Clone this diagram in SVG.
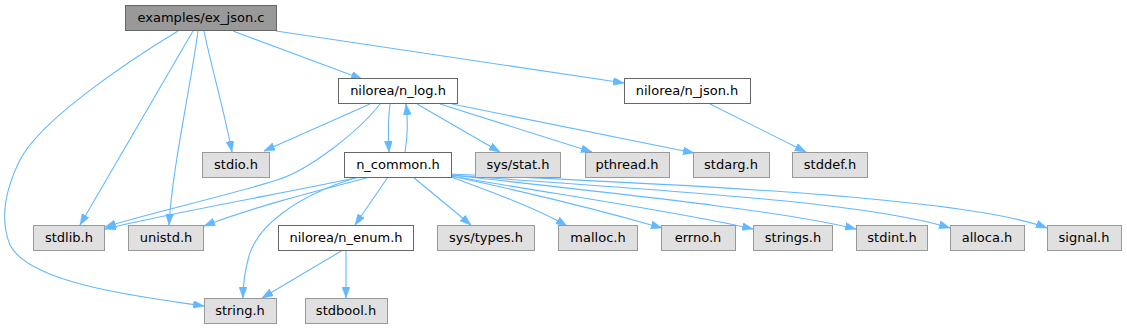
<svg xmlns="http://www.w3.org/2000/svg" width="1127" height="329" viewBox="0 0 1127 329">
<style>
.n rect{stroke-width:1}
.w rect{fill:#ffffff;stroke:#666666}
.g rect{fill:#e0e0e0;stroke:#999999}
.r rect{fill:#999999;stroke:#666666}
text{font-family:"DejaVu Sans","Liberation Sans",sans-serif;font-size:13px;fill:#000000;text-anchor:middle}
.e path{fill:none;stroke:#63b8ff;stroke-width:1.1;marker-end:url(#ah)}
</style>
<defs>
<marker id="ah" viewBox="0 0 11 8" refX="11" refY="4" markerWidth="11" markerHeight="8" markerUnits="userSpaceOnUse" orient="auto">
<path d="M0,0 L11,4 L0,8 z" fill="#63b8ff" stroke="#63b8ff" stroke-width="0.5"/>
</marker>
</defs>
<rect width="1127" height="329" fill="#ffffff"/>
<g id="edges" class="e">
<path d="M178,31 C130,60 40,120 20,160 C5,190 0,220 10,245 C30,285 150,298 204,306"/>
<path d="M193,31 L80,225"/>
<path d="M198,31 C190,90 172,170 169,225"/>
<path d="M204,31 C212,70 224,110 232,152"/>
<path d="M233,31 L362,79"/>
<path d="M276,31 L624,83"/>
<path d="M370,104 L264,151"/>
<path d="M380,104 C360,130 310,170 277,180 C230,195 150,213 105,227"/>
<path d="M360,177 C300,190 160,215 105,229"/>
<path d="M390,104 C388,120 388,135 389,152"/>
<path d="M405,152 C408,135 408,120 406,104"/>
<path d="M417,104 L500,152"/>
<path d="M440,104 L592,152"/>
<path d="M452,104 L694,153"/>
<path d="M710,104 L806,152"/>
<path d="M370,177 C320,190 250,208 204,226"/>
<path d="M355,178 C300,195 255,225 248,260 C244,275 243,285 243,298"/>
<path d="M388,177 L355,225"/>
<path d="M413,177 L471,225"/>
<path d="M451,177 C500,195 540,210 567,226"/>
<path d="M451,176 C540,195 610,213 662,228"/>
<path d="M451,176 C560,195 680,212 753,229"/>
<path d="M451,175 C600,192 780,210 856,229"/>
<path d="M451,175 C620,188 860,200 950,228"/>
<path d="M451,174 C640,183 960,195 1047,228"/>
<path d="M343,250 L262,298"/>
<path d="M346,250 L346,298"/>
</g>
<g id="ex_json" class="n r"><rect x="125.5" y="5.5" width="151" height="25"/><text x="201" y="22">examples/ex_json.c</text></g>
<g id="n_log" class="n w"><rect x="338.5" y="78.5" width="119" height="25"/><text x="398" y="95">nilorea/n_log.h</text></g>
<g id="n_json" class="n w"><rect x="624.5" y="78.5" width="126" height="25"/><text x="687" y="95">nilorea/n_json.h</text></g>
<g id="stdio" class="n g"><rect x="202.5" y="152.5" width="67" height="25"/><text x="236" y="169">stdio.h</text></g>
<g id="n_common" class="n w"><rect x="344.5" y="152.5" width="107" height="25"/><text x="398" y="169">n_common.h</text></g>
<g id="sys_stat" class="n g"><rect x="475.5" y="152.5" width="85" height="25"/><text x="518" y="169">sys/stat.h</text></g>
<g id="pthread" class="n g"><rect x="585.5" y="152.5" width="84" height="25"/><text x="627" y="169">pthread.h</text></g>
<g id="stdarg" class="n g"><rect x="693.5" y="152.5" width="76" height="25"/><text x="731" y="169">stdarg.h</text></g>
<g id="stddef" class="n g"><rect x="792.5" y="152.5" width="75" height="25"/><text x="830" y="169">stddef.h</text></g>
<g id="stdlib" class="n g"><rect x="33.5" y="225.5" width="71" height="25"/><text x="69" y="242">stdlib.h</text></g>
<g id="unistd" class="n g"><rect x="128.5" y="225.5" width="75" height="25"/><text x="166" y="242">unistd.h</text></g>
<g id="n_enum" class="n w"><rect x="278.5" y="225.5" width="135" height="25"/><text x="346" y="242">nilorea/n_enum.h</text></g>
<g id="sys_types" class="n g"><rect x="437.5" y="225.5" width="97" height="25"/><text x="486" y="242">sys/types.h</text></g>
<g id="malloc" class="n g"><rect x="558.5" y="225.5" width="79" height="25"/><text x="598" y="242">malloc.h</text></g>
<g id="errno" class="n g"><rect x="661.5" y="225.5" width="74" height="25"/><text x="698" y="242">errno.h</text></g>
<g id="strings" class="n g"><rect x="753.5" y="225.5" width="79" height="25"/><text x="793" y="242">strings.h</text></g>
<g id="stdint" class="n g"><rect x="856.5" y="225.5" width="71" height="25"/><text x="892" y="242">stdint.h</text></g>
<g id="alloca" class="n g"><rect x="950.5" y="225.5" width="74" height="25"/><text x="987" y="242">alloca.h</text></g>
<g id="signal" class="n g"><rect x="1047.5" y="225.5" width="74" height="25"/><text x="1084" y="242">signal.h</text></g>
<g id="string" class="n g"><rect x="204.5" y="298.5" width="72" height="25"/><text x="240" y="315">string.h</text></g>
<g id="stdbool" class="n g"><rect x="305.5" y="298.5" width="82" height="25"/><text x="346" y="315">stdbool.h</text></g>
</svg>
